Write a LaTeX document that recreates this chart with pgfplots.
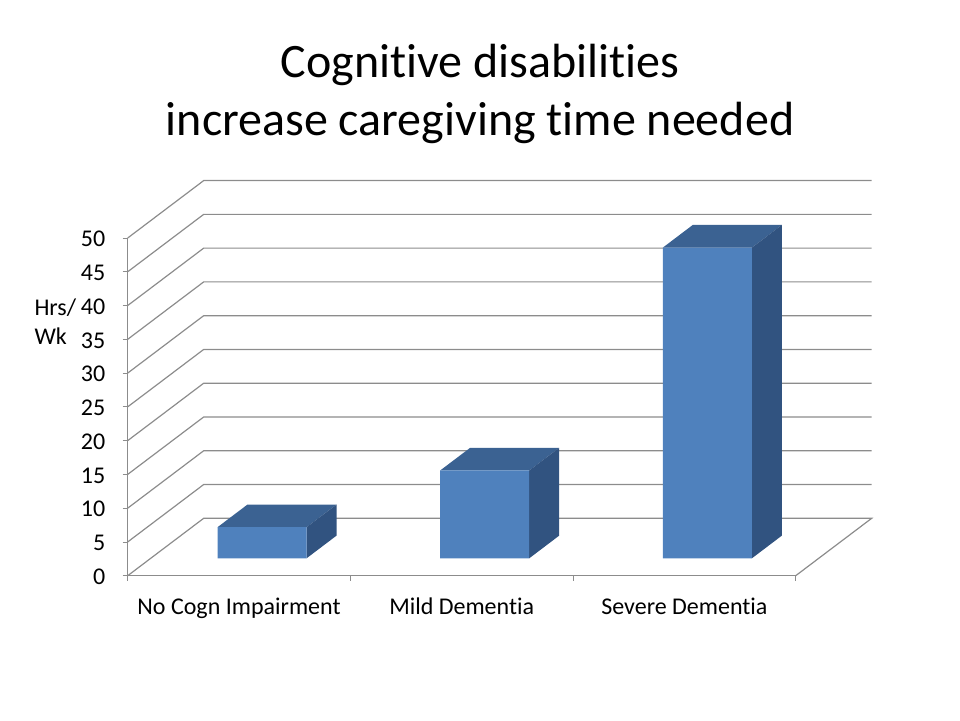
\documentclass[border=0pt]{standalone}
\usepackage{pgfplots}
\pgfplotsset{compat=1.18}
\usepackage{fontspec}
\setmainfont{Carlito}[Ligatures=CommonOff]

\definecolor{barfront}{HTML}{4F81BD}
\definecolor{bartop}{HTML}{3B6292}
\definecolor{barside}{HTML}{315380}
\definecolor{wall}{HTML}{8C8C8C}

% depth of the bars: 0.1347 categories across, 3.36 units up
\pgfplotsset{
  depthshift/.style={xshift=23pt,yshift=17.4pt},
  gridline/.style={wall,line width=1.2pt,forget plot},
}
\newcommand{\barsides}[2]{%
  \addplot[fill=bartop,draw=none,depthshift,forget plot] coordinates
    {({#1-0.2},#2) ({#1+0.2},#2) ({#1+0.3347},{#2+3.36}) ({#1-0.0653},{#2+3.36})};
  \addplot[fill=barside,draw=none,depthshift,forget plot] coordinates
    {({#1+0.2},0) ({#1+0.2},#2) ({#1+0.3347},{#2+3.36}) ({#1+0.3347},3.36)};
}

\begin{document}
\begin{tikzpicture}
\path[use as bounding box] (-127.7pt,-144.3pt) rectangle (832.3pt,575.7pt);
\begin{axis}[
    at={(0pt,0pt)}, anchor=south west,
    scale only axis,
    width=668pt, height=337.7pt,
    clip=false,
    xmin=0, xmax=3, ymin=0, ymax=50,
    axis x line*=bottom, axis y line*=left,
    axis line style={wall,line width=1.4pt,-},
    tick style={wall,line width=0.8pt},
    tick align=outside,
    major tick length=5pt,
    xtick={0,1,2,3}, xticklabels={,,,},
    extra x ticks={0.5,1.5,2.5},
    extra x tick labels={No Cogn Impairment,Mild Dementia,Severe Dementia},
    extra x tick style={major tick length=0pt},
    ytick={0,5,...,50},
    /pgf/number format/assume math mode=true,
    tick label style={font=\fontsize{24}{28}\selectfont,black},
    xticklabel style={yshift=-18.5pt},
    yticklabel style={xshift=-14pt,yshift=-1pt},
    title={Cognitive disabilities\\increase caregiving time needed},
    title style={at={(rel axis cs:0.5274,1.408)},anchor=center,align=center,
        font=\fontsize{48}{58}\selectfont},
    ylabel={Hrs/\\Wk},
    ylabel style={at={(rel axis cs:-0.1448,0.751)},rotate=-90,anchor=west,align=left,
        font=\fontsize{24}{29}\selectfont},
]
% floor
\addplot[gridline] coordinates {(0,0) (0.3413,8.5) (3.3413,8.5) (3,0)};
% walls
\addplot[gridline] coordinates {(0,5) (0.3413,13.5) (3.3413,13.5)};
\addplot[gridline] coordinates {(0,10) (0.3413,18.5) (3.3413,18.5)};
\addplot[gridline] coordinates {(0,15) (0.3413,23.5) (3.3413,23.5)};
\addplot[gridline] coordinates {(0,20) (0.3413,28.5) (3.3413,28.5)};
\addplot[gridline] coordinates {(0,25) (0.3413,33.5) (3.3413,33.5)};
\addplot[gridline] coordinates {(0,30) (0.3413,38.5) (3.3413,38.5)};
\addplot[gridline] coordinates {(0,35) (0.3413,43.5) (3.3413,43.5)};
\addplot[gridline] coordinates {(0,40) (0.3413,48.5) (3.3413,48.5)};
\addplot[gridline] coordinates {(0,45) (0.3413,53.5) (3.3413,53.5)};
\addplot[gridline] coordinates {(0,50) (0.3413,58.5) (3.3413,58.5)};
% bars
\barsides{0.5}{4.6}
\barsides{1.5}{13}
\barsides{2.5}{46}
\addplot[ybar,bar width=89pt,fill=barfront,draw=none,depthshift,forget plot]
    coordinates {(0.5,4.6) (1.5,13) (2.5,46)};
\end{axis}
\end{tikzpicture}
\end{document}
